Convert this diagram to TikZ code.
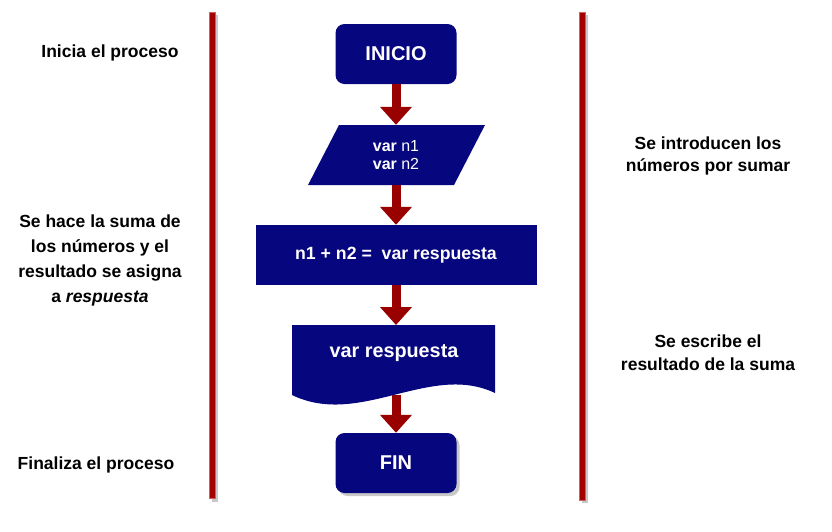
\documentclass[tikz,border=0pt]{standalone}
\usepackage{fontspec}
\setmainfont{Liberation Sans}
\usetikzlibrary{arrows.meta,shadows}
\definecolor{azul}{HTML}{06067F}
\definecolor{rojo}{HTML}{990000}
\definecolor{barra}{HTML}{A30000}
\definecolor{borde}{HTML}{D06060}
\definecolor{sombra}{HTML}{C8C8C8}
\tikzset{
  terminal/.style={fill=azul,text=white,rounded corners=9pt,inner sep=0pt,
    minimum width=121pt,minimum height=60pt,font=\bfseries\fontsize{20}{24}\selectfont},
  entrada/.style={text=white,inner sep=0pt,align=center,
    minimum width=146pt,minimum height=60pt,font=\fontsize{16}{18}\selectfont},
  proceso/.style={fill=azul,text=white,inner sep=0pt,minimum width=281pt,
    minimum height=60pt,font=\bfseries\fontsize{17.7}{20}\selectfont},
  flecha/.style={rojo,line width=9pt,-{Triangle[width=31pt,length=18pt]}},
  nota/.style={align=center,font=\bfseries\fontsize{17.5}{25}\selectfont}
}
\begin{document}
\begin{tikzpicture}[x=1pt,y=-1pt]
  \useasboundingbox (0,0) rectangle (832,531);
  % barras verticales
  \fill[sombra] (212,15) rectangle (218,502);
  \filldraw[fill=barra,draw=borde,line width=.6pt] (209,12) rectangle (215,498);
  \fill[sombra] (582,15) rectangle (588,503);
  \filldraw[fill=barra,draw=borde,line width=.6pt] (579,12) rectangle (585,500);
  % bloques
  \node[terminal] (inicio) at (396,54) {INICIO};
  \fill[azul] (308,185) -- (339,125) -- (485,125) -- (454,185) -- cycle;
  \node[entrada] (datos) at (396,155) {\textbf{var} n1\\\textbf{var} n2};
  \node[proceso] (suma) at (396,255) {n1 + n2 = \ var respuesta};
  \fill[azul] (292,325) -- (495,325) -- (495,393)
    .. controls (430,362) and (360,428) .. (292,395) -- cycle;
  \node[text=white,font=\bfseries\fontsize{19.8}{24}\selectfont] (salida) at (394,353) {var respuesta};
  \coordinate (salida-pie) at (396,394.5);
  \node[terminal,drop shadow={shadow xshift=3pt,shadow yshift=-3pt,fill=sombra,opacity=1}] (fin) at (396,463) {FIN};
  % flechas
  \draw[flecha] (inicio) -- (datos);
  \draw[flecha] (datos) -- (suma);
  \draw[flecha] (suma) -- (suma.south |- 0,325);
  \draw[flecha] (salida-pie) -- (fin);
  % notas
  \node[nota] (n-inicio) at (110,53) {Inicia el proceso};
  \node[nota] (n-suma) at (100,260) {Se hace la suma de\\los números y el\\resultado se asigna\\a \textit{respuesta}};
  \node[nota] (n-fin) at (96,465) {Finaliza el proceso};
  \node[nota,font=\bfseries\fontsize{17.5}{22}\selectfont] (n-datos) at (708,156) {Se introducen los\\números por sumar};
  \node[nota,font=\bfseries\fontsize{17.5}{23}\selectfont] (n-salida) at (708,353) {Se escribe el\\resultado de la suma};
\end{tikzpicture}
\end{document}
